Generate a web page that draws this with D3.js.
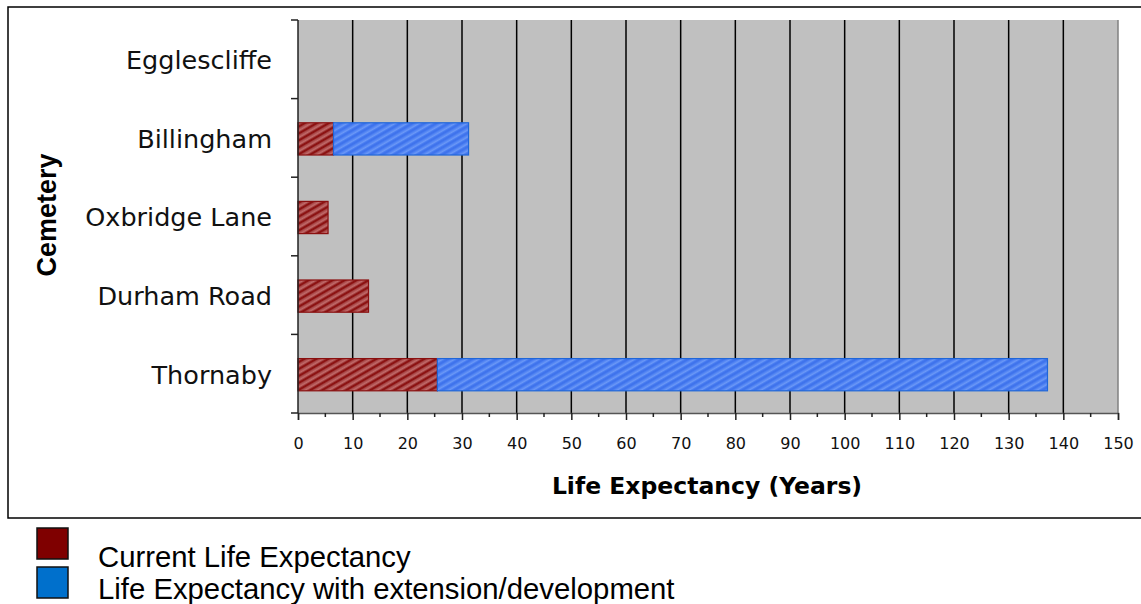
<!DOCTYPE html>
<html><head><meta charset="utf-8">
<script src="https://cdn.jsdelivr.net/npm/d3@7"></script>
<style>body{margin:0;background:#fff}</style>
</head><body>
<script>
const categories = ["Egglescliffe","Billingham","Oxbridge Lane","Durham Road","Thornaby"];
const currentLife = [0, 6.5, 5.5, 12.9, 25.5];
const extensionLife = [0, 24.7, 0, 0, 111.6];
const xTicks = [0,10,20,30,40,50,60,70,80,90,100,110,120,130,140,150];
const seriesNames = ["Current Life Expectancy","Life Expectancy with extension/development"];

const W = 1141, H = 604;
const svg = d3.select("body").append("svg").attr("width", W).attr("height", H);
const defs = svg.append("defs");

function stripes(id, base, dark, light) {
  const p = defs.append("pattern").attr("id", id).attr("patternUnits","userSpaceOnUse")
    .attr("width", 6).attr("height", 6).attr("patternTransform","rotate(-30)");
  p.append("rect").attr("width",6).attr("height",6).attr("fill",base);
  p.append("rect").attr("width",6).attr("height",2).attr("fill",dark);
  p.append("rect").attr("y",3.5).attr("width",6).attr("height",1.5).attr("fill",light);
}
stripes("redPat", "#a54444", "#8c1212", "#c26a6a");
stripes("bluePat", "#4c80f2", "#3f73ec", "#6b98f6");

// outer frame
svg.append("rect").attr("x",8).attr("y",7).attr("width",1145).attr("height",511)
  .attr("fill","#fff").attr("stroke","#000").attr("stroke-width",1.5);

const x = d3.scaleLinear().domain([0,150]).range([298,1118]);
const y = d3.scaleBand().domain(categories).range([20,413]);

// plot background
svg.append("rect").attr("x",x(0)).attr("y",20).attr("width",x(150)-x(0)).attr("height",393)
  .attr("fill","#c0c0c0");
svg.append("line").attr("x1",x(150)).attr("x2",x(150)).attr("y1",20).attr("y2",413)
  .attr("stroke","#808080").attr("stroke-width",1.5);

// gridlines
svg.append("g").selectAll("line").data(xTicks.filter(d=>d>0&&d<150)).join("line")
  .attr("x1",d=>x(d)).attr("x2",d=>x(d)).attr("y1",20).attr("y2",413)
  .attr("stroke","#000").attr("stroke-width",1.5);

// bars
const bh = y.bandwidth()*0.41;
const g = svg.append("g");
categories.forEach((c,i)=>{
  const yc = y(c) + y.bandwidth()/2 + 1 - bh/2;
  if (currentLife[i] > 0)
    g.append("rect").attr("x",x(0)).attr("y",yc).attr("width",x(currentLife[i])-x(0)).attr("height",bh)
      .attr("fill","url(#redPat)").attr("stroke","#8a1010").attr("stroke-width",1.2);
  if (extensionLife[i] > 0)
    g.append("rect").attr("x",x(currentLife[i])).attr("y",yc)
      .attr("width",x(currentLife[i]+extensionLife[i])-x(currentLife[i])).attr("height",bh)
      .attr("fill","url(#bluePat)").attr("stroke","#1f66d8").attr("stroke-width",1.2);
});

// x axis
const xa = svg.append("g").attr("transform","translate(0,413)")
  .call(d3.axisBottom(x).tickValues(xTicks).tickSize(7).tickPadding(18).tickFormat(d3.format("d")));
xa.select(".domain").attr("stroke","#555").attr("stroke-width",1.5);
xa.selectAll(".tick line").attr("stroke","#222").attr("stroke-width",1.5);
xa.selectAll("text").attr("font-family","DejaVu Sans").attr("font-size",16).attr("fill","#111");
svg.append("g").selectAll("line").data(d3.range(5,150,10)).join("line")
  .attr("x1",d=>x(d)).attr("x2",d=>x(d)).attr("y1",413).attr("y2",417)
  .attr("stroke","#222").attr("stroke-width",1.5);

// y axis
svg.append("line").attr("x1",298).attr("x2",298).attr("y1",20).attr("y2",413)
  .attr("stroke","#222").attr("stroke-width",1.5);
const bounds = categories.map(c=>y(c)).concat([413]);
svg.append("g").selectAll("line").data(bounds).join("line")
  .attr("x1",291).attr("x2",298).attr("y1",d=>d).attr("y2",d=>d)
  .attr("stroke","#222").attr("stroke-width",1.5);
svg.append("g").selectAll("text").data(categories).join("text")
  .attr("x",272).attr("y",d=>y(d)+y.bandwidth()/2+1).attr("dy","0.35em")
  .attr("text-anchor","end").attr("font-family","DejaVu Sans").attr("font-size",25.5)
  .attr("fill","#111").text(d=>d);

// axis titles
svg.append("text").attr("x",707).attr("y",494).attr("text-anchor","middle")
  .attr("font-family","DejaVu Sans").attr("font-weight","bold").attr("font-size",23.5)
  .attr("fill","#000").text("Life Expectancy (Years)");
svg.append("text").attr("transform","translate(56,215) rotate(-90)").attr("text-anchor","middle")
  .attr("font-family","Liberation Sans").attr("font-weight","bold").attr("font-size",27)
  .attr("fill","#000").text("Cemetery");

// legend
const legColors = ["#7f0000","#0070cc"];
const lg = svg.append("g");
seriesNames.forEach((n,i)=>{
  lg.append("rect").attr("x",37).attr("y",528+i*39).attr("width",31).attr("height",31)
    .attr("fill",legColors[i]).attr("stroke","#111").attr("stroke-width",1.5);
  lg.append("text").attr("x",98).attr("y",567+i*32).attr("font-family","Liberation Sans")
    .attr("font-size",29.3).attr("fill","#000").text(n);
});
</script>
</body></html>
